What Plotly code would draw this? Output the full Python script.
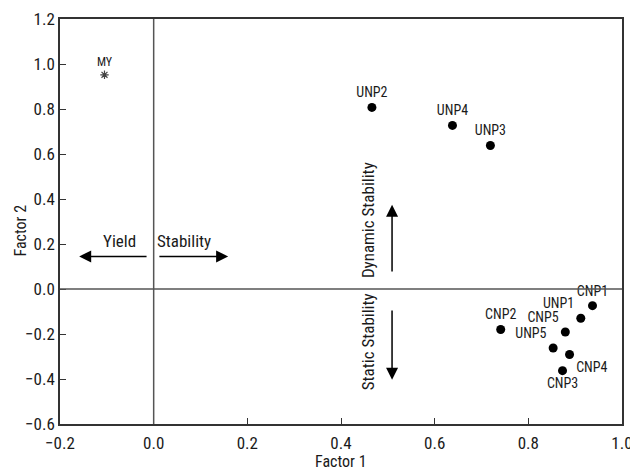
import plotly.graph_objects as go

# Data
names = ["UNP2", "UNP4", "UNP3", "CNP1", "UNP1", "CNP5", "CNP2", "UNP5", "CNP4", "CNP3"]
factor1 = [0.466, 0.638, 0.719, 0.937, 0.912, 0.879, 0.741, 0.853, 0.888, 0.873]
factor2 = [0.807, 0.727, 0.638, -0.074, -0.130, -0.191, -0.180, -0.262, -0.291, -0.363]
label_pos = ["top center", "top center", "top center", "top center", "top left",
             "top left", "top center", "top left", "bottom right", "bottom center"]

my_name = ["MY"]
my_x = [-0.105]
my_y = [0.952]

x_ticks = [-0.2, 0.0, 0.2, 0.4, 0.6, 0.8, 1.0]
y_ticks = [-0.6, -0.4, -0.2, 0.0, 0.2, 0.4, 0.6, 0.8, 1.0, 1.2]

FONT = "Liberation Sans Narrow, Roboto Condensed, Arial Narrow, Liberation Sans, sans-serif"
INK = "#1a1a1a"

fig = go.Figure()

fig.add_trace(go.Scatter(
    x=factor1, y=factor2, mode="markers+text", text=names,
    textposition=label_pos,
    textfont=dict(family=FONT, size=14, color=INK),
    marker=dict(color="black", size=9),
    showlegend=False, cliponaxis=False,
))

fig.add_trace(go.Scatter(
    x=my_x, y=my_y, mode="markers+text", text=my_name,
    textposition="top center",
    textfont=dict(family=FONT, size=12, color=INK),
    marker=dict(symbol="asterisk-open", size=7, color="#444", line=dict(color="#444", width=1.2)),
    showlegend=False,
))

# reference lines at zero
fig.add_shape(type="line", x0=0, x1=0, y0=-0.6, y1=1.2, xref="x", yref="y",
              line=dict(color="#555", width=1.5))
fig.add_shape(type="line", x0=-0.2, x1=1.0, y0=0, y1=0, xref="x", yref="y",
              line=dict(color="#555", width=1.5))

arrow = dict(xref="x", yref="y", axref="x", ayref="y", showarrow=True,
             arrowhead=2, arrowsize=1.6, arrowwidth=1.5, arrowcolor="black", text="")
fig.add_annotation(x=-0.159, y=0.145, ax=-0.012, ay=0.145, **arrow)
fig.add_annotation(x=0.159, y=0.145, ax=0.009, ay=0.145, **arrow)
fig.add_annotation(x=0.509, y=0.375, ax=0.509, ay=0.071, **arrow)
fig.add_annotation(x=0.509, y=-0.403, ax=0.509, ay=-0.089, **arrow)

txt = dict(xref="x", yref="y", showarrow=False, font=dict(family=FONT, size=17, color=INK))
fig.add_annotation(x=-0.072, y=0.212, text="Yield", **txt)
fig.add_annotation(x=0.065, y=0.212, text="Stability", **txt)
fig.add_annotation(x=0.458, y=0.307, text="Dynamic Stability", textangle=-90, **txt)
fig.add_annotation(x=0.458, y=-0.236, text="Static Stability", textangle=-90, **txt)

# axis titles
ttl = dict(xref="paper", yref="paper", showarrow=False, font=dict(family=FONT, size=16, color=INK))
fig.add_annotation(x=0.5, y=-0.092, text="Factor 1", xanchor="center", yanchor="middle", **ttl)
fig.add_annotation(x=-0.0703, y=0.479, text="Factor 2", textangle=-90,
                   xanchor="center", yanchor="middle", **ttl)

axis_common = dict(
    showgrid=False, zeroline=False, showline=True, mirror=True, automargin=False,
    linecolor="#333", linewidth=1.5, ticks="inside", ticklen=6, tickcolor="#333",
    tickfont=dict(family=FONT, size=17, color=INK), tickformat=".1f",
    ticklabeloverflow="allow",
)
fig.update_xaxes(range=[-0.2, 1.0], tickvals=x_ticks, ticklabelstandoff=3, **axis_common)
fig.update_yaxes(range=[-0.6, 1.2], tickvals=y_ticks, **axis_common)

fig.update_layout(
    width=630, height=470,
    margin=dict(l=60, r=8, t=19, b=46),
    plot_bgcolor="white", paper_bgcolor="white",
)

fig.write_html(
    "out.html",
    config={"displayModeBar": False},
    post_script="document.body.style.margin='0';document.body.style.overflow='hidden';",
)
